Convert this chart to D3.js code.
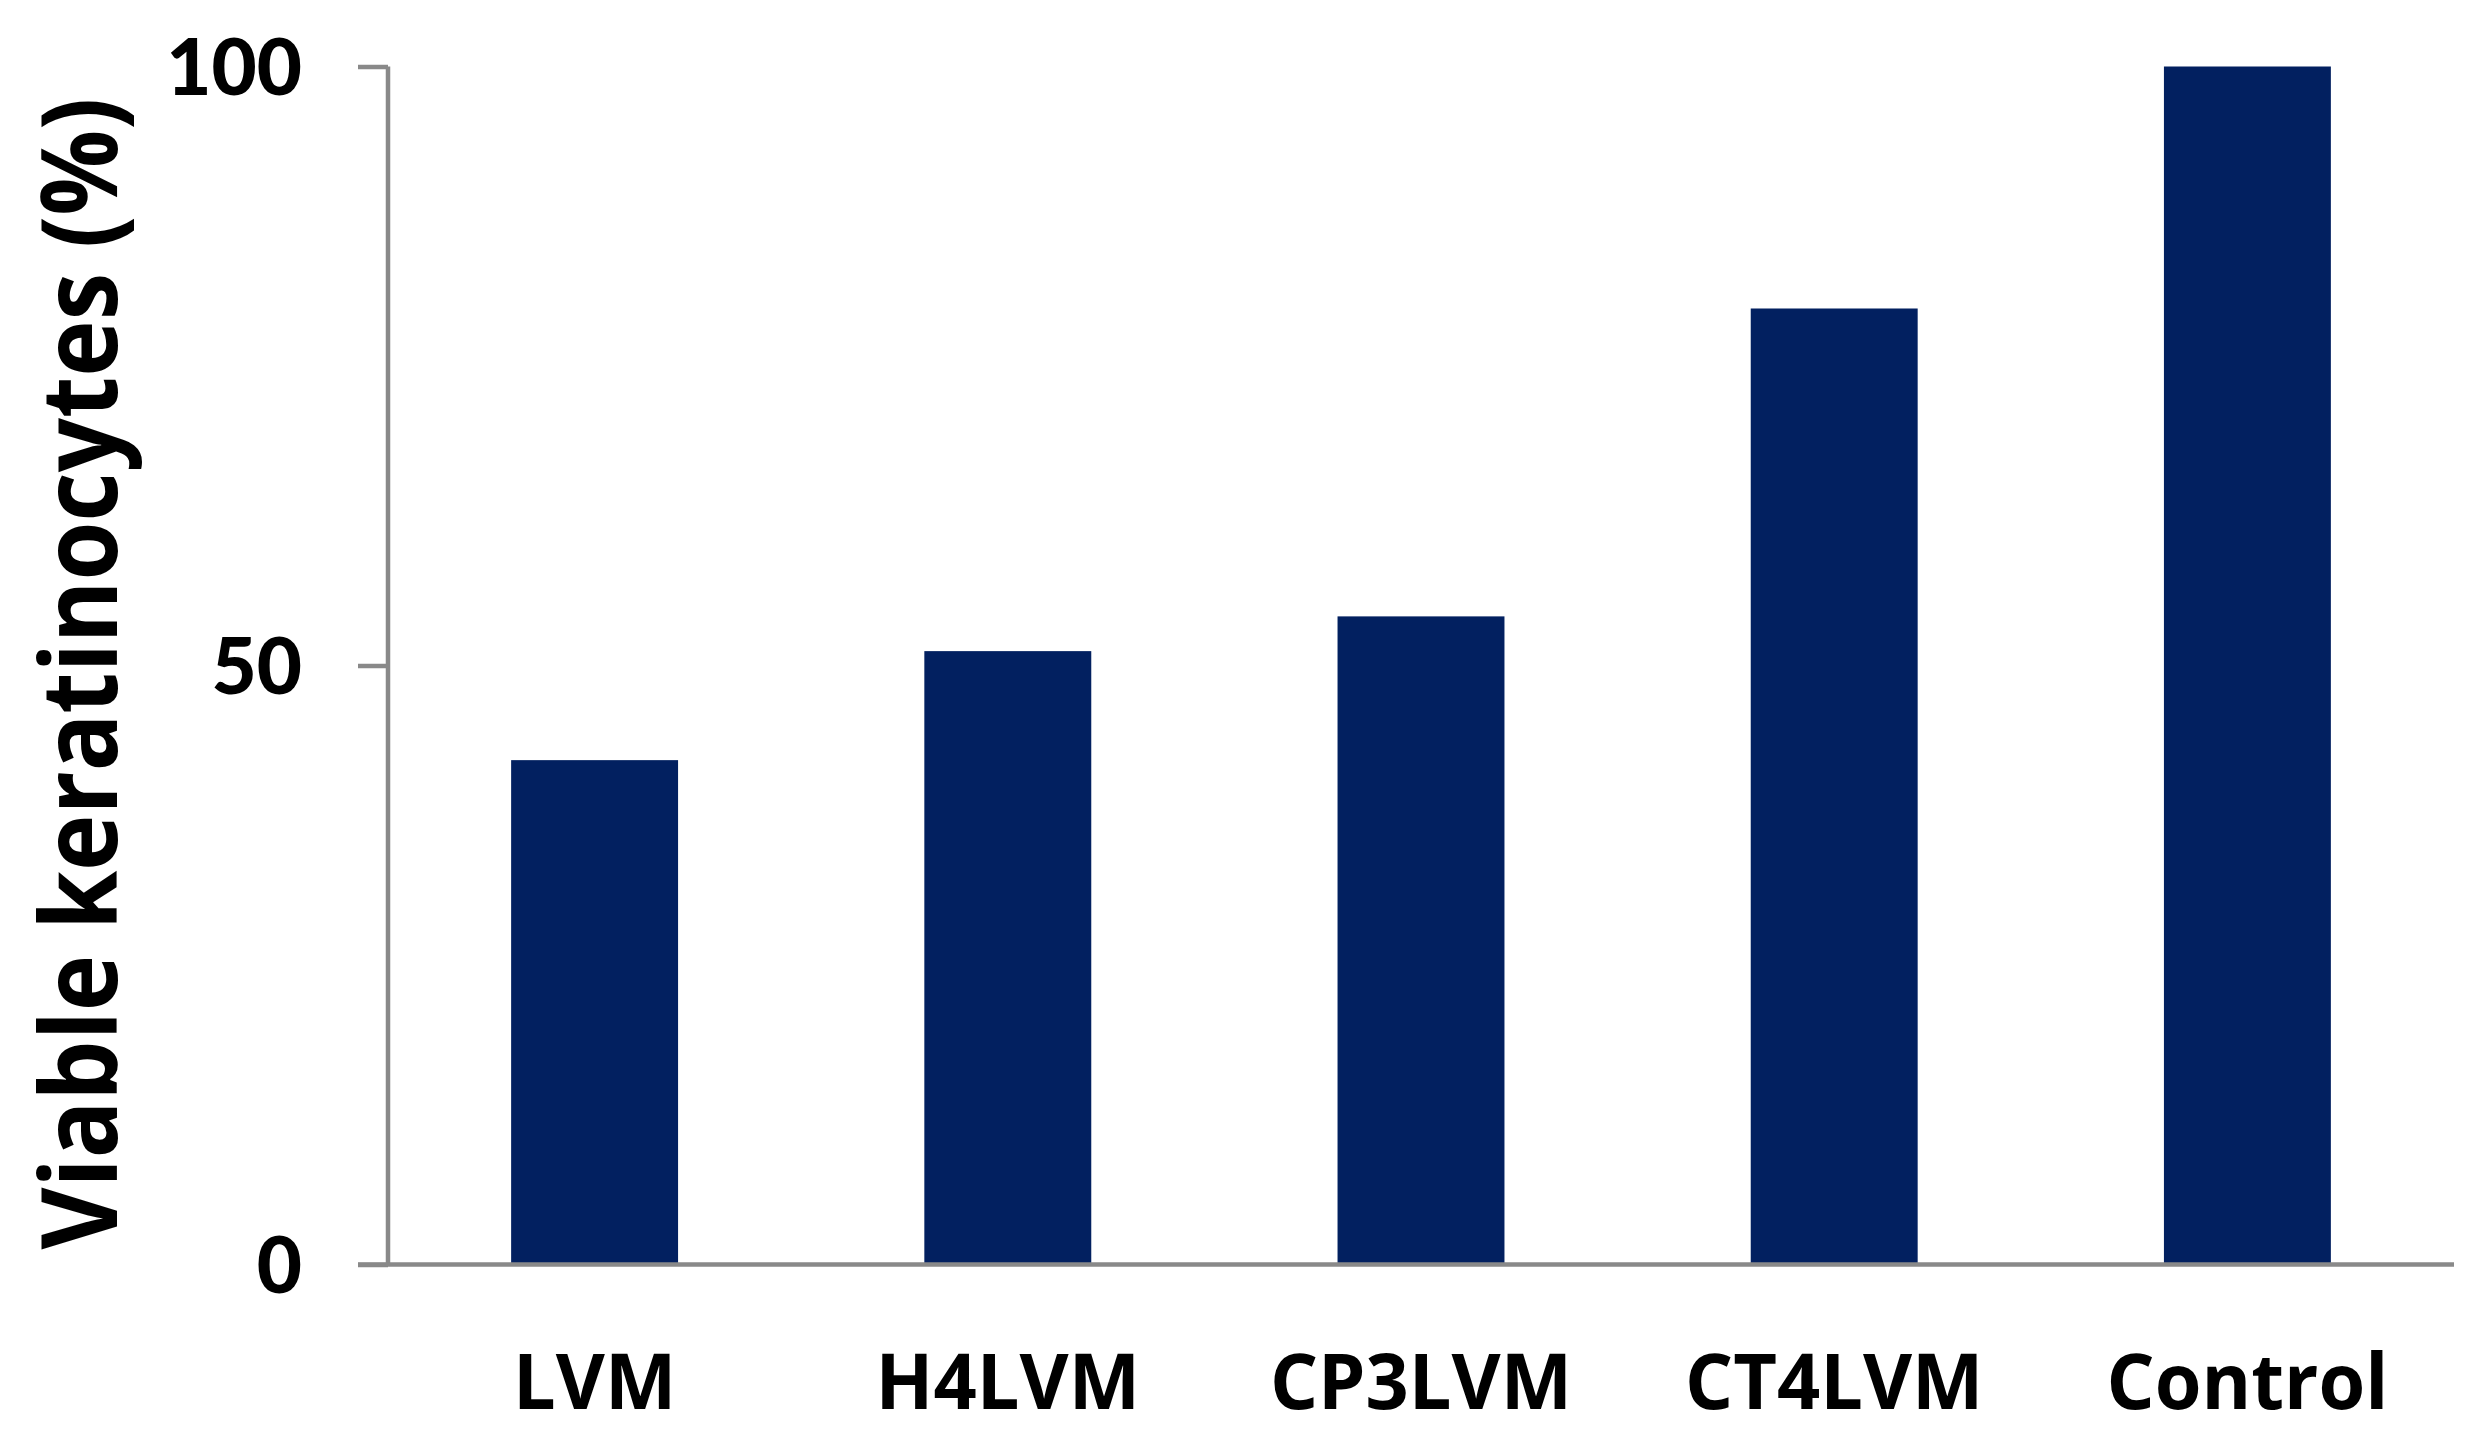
<!DOCTYPE html>
<html>
<head>
<meta charset="utf-8">
<script src="https://cdn.jsdelivr.net/npm/d3@7"></script>
<style>
  html, body { margin: 0; padding: 0; background: #ffffff; }
  svg { display: block; }
</style>
</head>
<body>
<script>
// ---- data ----
const categories = ["LVM", "H4LVM", "CP3LVM", "CT4LVM", "Control"];
const viability = [42.1, 51.2, 54.1, 79.8, 100];
const yTicks = [0, 50, 100];
const yTitle = "Viable keratinocytes (%)";

// ---- layout ----
const W = 2479, H = 1450;
const mLeft = 388, mRight = 2454, mTop = 66.5, mBottom = 1264.5;
const barColor = "#022060";
const axisColor = "#898989";

const svg = d3.select("body").append("svg")
  .attr("width", W).attr("height", H);

const x = d3.scaleBand()
  .domain(categories)
  .range([mLeft, mRight])
  .paddingInner(0.596)
  .paddingOuter(0.298);

const y = d3.scaleLinear()
  .domain([0, 100])
  .range([mBottom, mTop]);

// bars
svg.append("g").selectAll("rect")
  .data(categories.map((c, i) => ({ c, v: viability[i] })))
  .join("rect")
  .attr("x", d => x(d.c))
  .attr("width", x.bandwidth())
  .attr("y", d => y(d.v))
  .attr("height", d => y(0) - y(d.v))
  .attr("fill", barColor);

// y axis
const yAxis = d3.axisLeft(y)
  .tickValues(yTicks)
  .tickSize(30)
  .tickPadding(56)
  .tickFormat(d3.format("d"));
const gy = svg.append("g")
  .attr("transform", `translate(${mLeft},0)`)
  .call(yAxis);
gy.select(".domain").attr("stroke", axisColor).attr("stroke-width", 4.5)
  .attr("d", `M0,${mTop}V${mBottom}`);
gy.selectAll(".tick line").attr("stroke", axisColor).attr("stroke-width", 4.5);
gy.selectAll(".tick text")
  .attr("fill", "#000")
  .attr("font-family", "Lato, 'Open Sans', sans-serif")
  .attr("font-weight", 900)
  .attr("font-size", 78)
  .attr("dy", "0.36em");

// x axis
const xAxis = d3.axisBottom(x).tickSize(0).tickPadding(0);
const gx = svg.append("g")
  .attr("transform", `translate(0,${mBottom})`)
  .call(xAxis);
gx.select(".domain").attr("stroke", axisColor).attr("stroke-width", 4.5)
  .attr("d", `M${mLeft - 30},0H${mRight}`);
gx.selectAll(".tick text").each(function () {
  const t = d3.select(this);
  t.attr("fill", "#000")
   .attr("font-family", "'Open Sans', sans-serif")
   .attr("font-weight", "bold")
   .attr("font-size", 78)
   .attr("dy", null)
   .attr("y", 0)
   .attr("transform", `translate(0,144) scale(0.97,1)`);
});

// y title
svg.append("text")
  .attr("transform", `translate(117,${(98 + 1249) / 2}) rotate(-90) scale(0.9,1)`)
  .attr("text-anchor", "middle")
  .attr("font-family", "'Open Sans', sans-serif")
  .attr("font-weight", "bold")
  .attr("font-size", 106)
  .attr("fill", "#000")
  .text(yTitle);
</script>
</body>
</html>
